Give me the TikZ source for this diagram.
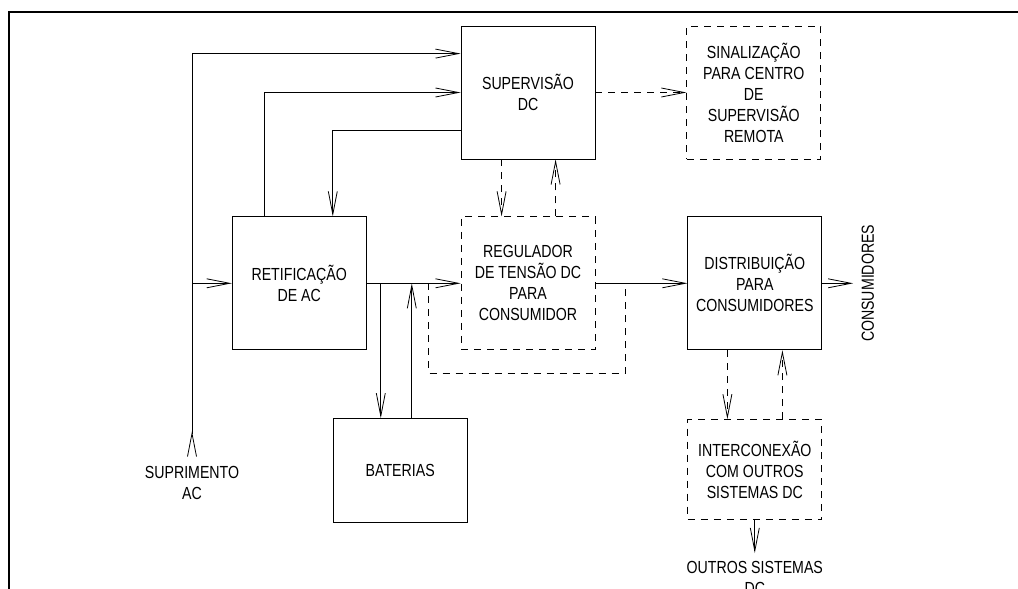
\documentclass[tikz,border=0pt]{standalone}
\usepackage{fontspec}
\setmainfont{Liberation Sans}[FakeStretch=0.81]
\usepackage{tikz}
\usetikzlibrary{positioning}
\usetikzlibrary{arrows.meta}
\usetikzlibrary{calc}

\begin{document}
\begin{tikzpicture}[
    x=1pt, y=1pt, line width=0.8pt,
    >={Straight Barb[length=23pt, width=9pt]},
    block/.style={align=center, rectangle, draw=black, fill=white, minimum width=134pt, minimum height=133pt, inner sep=0pt, font=\fontsize{17.5}{21}\selectfont},
    dblock/.style={block, dash pattern=on 7pt off 6pt},
    lbl/.style={align=center, inner sep=0pt, font=\fontsize{17.5}{21}\selectfont},
    dline/.style={dash pattern=on 7pt off 6pt}
]
    \useasboundingbox (0,0) rectangle (1018,-589);
    \draw[line width=2.5pt, line join=miter] (9,-600) -- (9,-12) -- (1030,-12);

    \node[block] (sup) at (528,-92.5) {SUPERVISÃO\\DC};
    \node[dblock] (sinal) [right=91pt of sup] {SINALIZAÇÃO\\PARA CENTRO\\DE\\SUPERVISÃO\\REMOTA};
    \node[dblock] (reg) [below=57pt of sup] {REGULADOR\\DE TENSÃO DC\\PARA\\CONSUMIDOR};
    \node[block] (retif) [left=94pt of reg] {RETIFICAÇÃO\\DE AC};
    \node[block] (dist) [right=92pt of reg] {DISTRIBUIÇÃO\\PARA\\CONSUMIDORES};
    \node[block, minimum height=104pt] (bat) [below right=68pt and 101pt of retif.south west] {BATERIAS};
    \node[dblock, minimum height=100pt] (inter) [below=69pt of dist] {INTERCONEXÃO\\COM OUTROS\\SISTEMAS DC};

    \node[lbl] (supr) at (192,-483) {SUPRIMENTO\\AC};
    \coordinate (cout) at ([xshift=31pt]dist.east);
    \node[lbl, rotate=90, anchor=north] (cons) at ([xshift=8pt]cout) {CONSUMIDORES};
    \coordinate (out) at ([yshift=-33pt]inter.south);
    \node[lbl] (outros) [below=8pt of out] {OUTROS SISTEMAS\\DC};

    \coordinate (top1) at ([yshift=-28pt]sup.north west);
    \coordinate (bdn) at ([xshift=48pt]bat.north west);
    \coordinate (bup) at ([xshift=79pt]bat.north west);

    \draw[>->] ([yshift=9pt]supr.north) |- (top1);
    \draw[->] (supr |- retif.west) -- (retif.west);
    \draw[->] ([xshift=33pt]retif.north west) |- (sup.west);
    \draw[->] ([yshift=29pt]sup.south west) -| ([xshift=101pt]retif.north west);
    \draw[dline,->] (sup.east) -- (sinal.west);
    \draw[dline,->] ([xshift=41pt]sup.south west) -- ([xshift=41pt]reg.north west);
    \draw[dline,->] ([xshift=95pt]reg.north west) -- ([xshift=95pt]sup.south west);

    \draw[->] (retif.east) -- (reg.west);
    \draw[->] (reg.east) -- (dist.west);
    \draw[->] (dist.east) -- (cout);
    \draw[->] (bdn |- retif.east) -- (bdn);
    \draw[->] (bup) -- (bup |- retif.east);
    \draw[dline] ([xshift=-32pt]reg.west) -- ++(0,-90) -| ([xshift=30pt]reg.east);

    \draw[dline,->] ([xshift=40pt]dist.south west) -- ([xshift=40pt]inter.north west);
    \draw[dline,->] ([xshift=95pt]inter.north west) -- ([xshift=95pt]dist.south west);
    \draw[->] (inter.south) -- (out);
\end{tikzpicture}
\end{document}
